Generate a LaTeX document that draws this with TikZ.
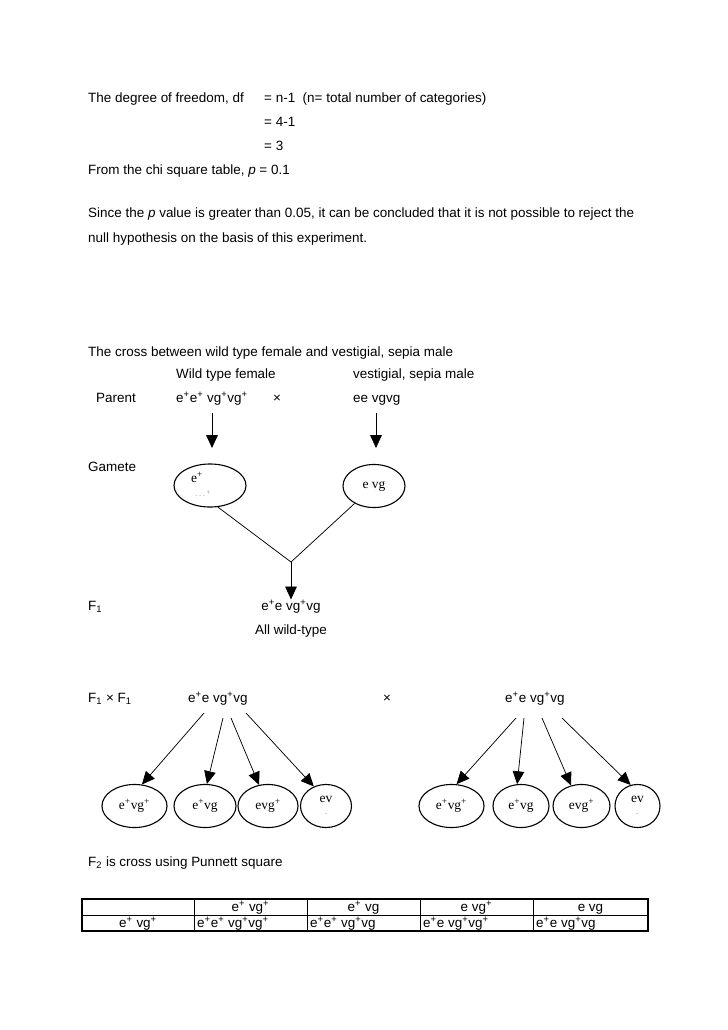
\documentclass[tikz,border=0pt]{standalone}
\usepackage{fontspec}
\setmainfont{Liberation Sans}
\newfontfamily\gamfont{Liberation Serif}
\usetikzlibrary{arrows.meta, positioning, calc, shapes.geometric}
\newcommand{\ps}{\textsuperscript{+}}

\tikzset{
  txt/.style={anchor=base west, inner sep=0pt, font=\fontsize{11}{13}\selectfont},
  ctxt/.style={anchor=base, inner sep=0pt, font=\fontsize{11}{13}\selectfont},
  gam/.style={draw, ellipse, line width=0.9pt, inner sep=0pt, minimum height=35.2pt,
              align=center, font=\gamfont\fontsize{11}{10}\selectfont},
  arr/.style={-{Triangle[length=10.5pt, width=9.5pt]}, line width=0.6pt},
}

\begin{document}
\begin{tikzpicture}[x=0.8177pt, y=-0.8177pt]
  \fill[white] (0,0) rectangle (728,1030);
  \useasboundingbox (0,0) rectangle (728,1030);
  % chi square result
  \node[txt] (df) at (88,102) {The degree of freedom, df};
  \node[txt] (df1) at (264,102) {= n-1\ \ (n= total number of categories)};
  \node[txt] (df2) at (264,126) {= 4-1};
  \node[txt] (df3) at (264,150) {= 3};
  \node[txt] (pval) at (88,174) {From the chi square table, \textit{p} = 0.1};
  \node[txt] (concl1) at (88,217) {Since the \textit{p} value is greater than 0.05, it can be concluded that it is not possible to reject the};
  \node[txt] (concl2) at (88,242) {null hypothesis on the basis of this experiment.};

  % parental cross
  \node[txt] (title) at (88,356) {The cross between wild type female and vestigial, sepia male};
  \node[txt] (fem) at (176,378) {Wild type female};
  \node[txt] (mal) at (353,378) {vestigial, sepia male};
  \node[txt] (par) at (96,402) {Parent};
  \node[txt] (pf) at (176,402) {e\ps e\ps\ vg\ps vg\ps};
  \node[txt] (px) at (273,402) {×};
  \node[txt] (pm) at (353,402) {ee vgvg};
  \coordinate (pfa) at (212,413);
  \coordinate (pfb) at (212,448);
  \coordinate (pma) at (376,413);
  \coordinate (pmb) at (376,448);
  \draw[arr] (pfa) -- (pfb);
  \draw[arr] (pma) -- (pmb);

  % gametes
  \node[txt] (gam) at (88,471) {Gamete};
  \node[gam, minimum width=58.9pt] (gl) at (210,485.5) {};
  \node[inner sep=0pt, font=\gamfont\fontsize{11}{10}\selectfont] (gle) at (197,477) {e\ps};
  \node[inner sep=0pt, font=\tiny, gray!80] (glv) at (203,494) {- - - \textsuperscript{+}};
  \node[gam, minimum width=50.7pt] (gr) at (374,486) {e vg};
  \coordinate (join) at (291,562);
  \draw[line width=0.6pt] (gl.-70) -- (join) -- (gr.-138);

  % F1
  \node[txt] (f1) at (88,610) {F\textsubscript{1}};
  \node[ctxt] (f1g) at (291,610) {e\ps e vg\ps vg};
  \node[ctxt] (f1w) at (291,634) {All wild-type};
  \draw[arr] (join) -- (f1g.north);

  % F1 x F1
  \node[txt] (f1x) at (88,702) {F\textsubscript{1} × F\textsubscript{1}};
  \node[txt] (fa) at (188,702) {e\ps e vg\ps vg};
  \node[txt] (fx) at (383,702) {×};
  \node[txt] (fb) at (505,702) {e\ps e vg\ps vg};
  \foreach \n/\x/\w/\t in {c1/134.5/53.2/{e\ps vg\ps}, c2/205/50.7/{e\ps vg},
      c3/268/49.1/{evg\ps}, c4/326/41.7/{ev\\[1pt]{\tiny\color{gray}-}},
      r1/451.5/53.2/{e\ps vg\ps}, r2/521/45.8/{e\ps vg},
      r3/581.5/46.6/{evg\ps}, r4/637.5/36.8/{ev\\[1pt]{\tiny\color{gray}-}}}
    \node[gam, minimum width=\w pt] (\n) at (\x,806) {\t};
  \coordinate (a1) at (204,713);
  \coordinate (a2) at (223,718);
  \coordinate (a3) at (231,718);
  \coordinate (a4) at (246,713);
  \coordinate (b1) at (516,718);
  \coordinate (b2) at (524,718);
  \coordinate (b3) at (542,718);
  \coordinate (b4) at (562,718);
  \foreach \s/\e in {a1/c1.71, a2/c2.85, a3/c3.113, a4/c4.122,
                     b1/r1.77, b2/r2.100, b3/r3.117, b4/r4.108}
    \draw[arr] (\s) -- (\e);

  % Punnett square
  \node[txt] (f2) at (88,866) {F\textsubscript{2} is cross using Punnett square};
  \draw[line width=1.2pt] (82,899) rectangle (648,931);
  \draw[line width=0.6pt] (82,915) -- (648,915);
  \foreach \x in {194,307,420,533}
    \draw[line width=0.6pt] (\x,899) -- (\x,931);
  \foreach \n/\x/\t in {h1/250.5/{e\ps\ vg\ps}, h2/363.5/{e\ps\ vg},
                        h3/476.5/{e vg\ps}, h4/590.5/{e vg}}
    \node[ctxt] (\n) at (\x,911.5) {\t};
  \node[ctxt] (g1) at (138,927.5) {e\ps\ vg\ps};
  \foreach \n/\x/\t in {k1/197/{e\ps e\ps\ vg\ps vg\ps}, k2/310/{e\ps e\ps\ vg\ps vg},
                        k3/423/{e\ps e vg\ps vg\ps}, k4/536/{e\ps e vg\ps vg}}
    \node[txt] (\n) at (\x,927.5) {\t};
\end{tikzpicture}
\end{document}
